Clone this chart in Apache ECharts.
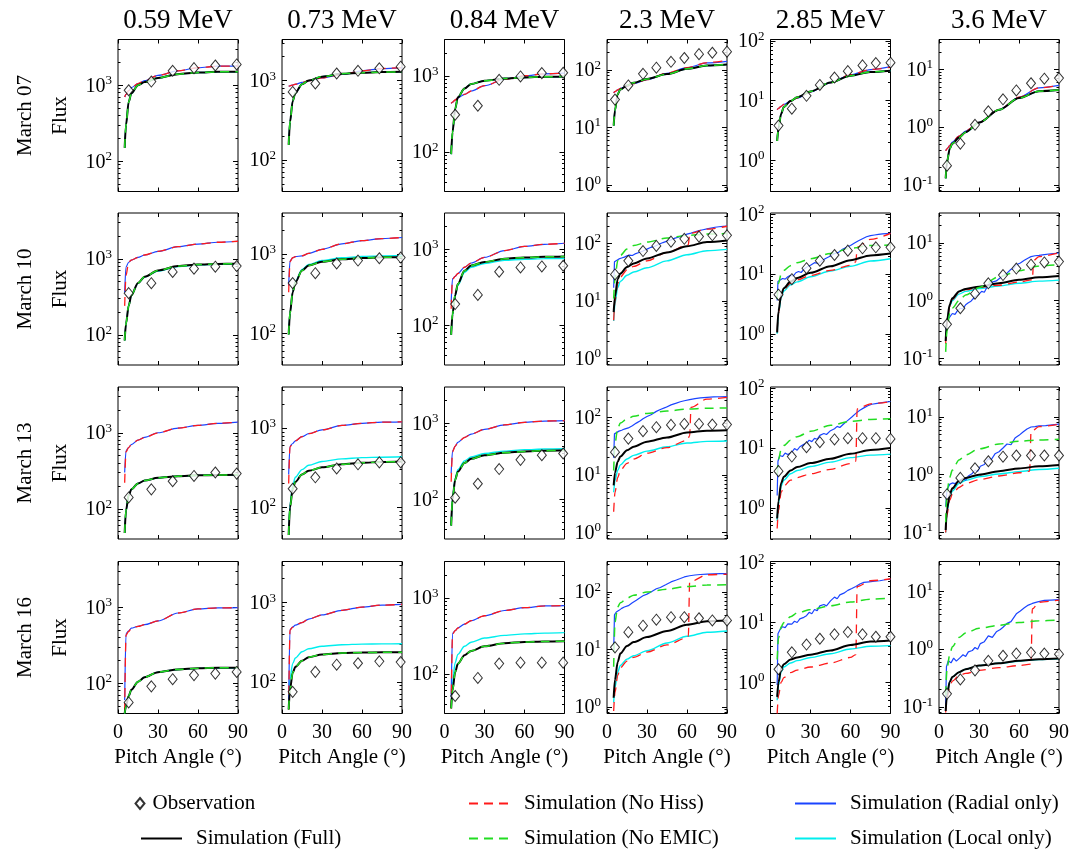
<!DOCTYPE html>
<html><head><meta charset="utf-8">
<script src="https://cdn.jsdelivr.net/npm/echarts@6/dist/echarts.min.js"></script>
<style>html,body{margin:0;padding:0;background:#fff}#c{width:1084px;height:852px}</style>
</head><body><div id="c"></div>
<script>
// ---------------- data ----------------
const ENERGIES = ['0.59 MeV', '0.73 MeV', '0.84 MeV', '2.3 MeV', '2.85 MeV', '3.6 MeV'];
const DATES = ['March 07', 'March 10', 'March 13', 'March 16'];
const Y_LIMITS = [[40, 4000], [40, 3300], [30, 3000], [0.77, 340], [0.3, 105], [0.077, 33]];
const PA_OBS_LOW = [8, 25, 41, 57, 73, 89];            // 0.59-0.84 MeV channels
const PA_OBS_HIGH = [6, 16, 27, 37, 48, 58, 69, 79, 90]; // 2.3-3.6 MeV channels
const PA_SIM = [5, 6, 8, 10, 15, 20, 30, 45, 60, 75, 90];
const LEGEND_NAMES = ['Observation', 'Simulation (Full)', 'Simulation (No Hiss)', 'Simulation (No EMIC)', 'Simulation (Radial only)', 'Simulation (Local only)'];

// March 07
const obs_mar07 = [
  [860, 1120, 1550, 1680, 1820, 1880],
  [720, 920, 1230, 1330, 1430, 1500],
  [307, 403, 885, 980, 1084, 1096],
  [30.6, 54, 86, 110, 139, 162, 189, 200, 209],
  [3.8, 7.3, 12.0, 18.2, 24.2, 31, 38.7, 42.4, 43],
  [0.216, 0.52, 1.1, 1.88, 3.04, 4.33, 5.77, 6.92, 7.1]];
const full_mar07 = [
  [150, 300, 600, 780, 1000, 1100, 1250, 1400, 1470, 1500, 1500],
  [155, 300, 550, 700, 900, 1000, 1120, 1220, 1260, 1280, 1290],
  [93, 180, 365, 520, 680, 780, 860, 920, 950, 970, 980],
  [10.8, 20, 38, 46, 54, 60, 70, 85, 105, 120, 125],
  [2.1, 3.5, 6.0, 7.8, 9.8, 11.3, 14.2, 20, 26, 30, 31.5],
  [0.13, 0.25, 0.42, 0.52, 0.66, 0.82, 1.2, 2.0, 3.2, 4.2, 4.4]];
const noHiss_mar07 = [
  [700, 760, 850, 930, 1050, 1150, 1350, 1550, 1700, 1780, 1800],
  [850, 860, 880, 900, 950, 1000, 1080, 1200, 1330, 1420, 1460],
  [433, 450, 480, 510, 570, 630, 740, 900, 1000, 1060, 1080],
  [40, 42, 45, 48, 52, 58, 68, 88, 110, 135, 147],
  [7.0, 7.4, 8.0, 8.6, 9.8, 11, 14, 20, 27, 33, 36],
  [0.39, 0.42, 0.48, 0.55, 0.7, 0.86, 1.2, 2.0, 3.3, 4.8, 5.3]];
const noEmic_mar07 = [
  [150, 300, 600, 780, 1000, 1100, 1250, 1400, 1470, 1500, 1500],
  [155, 300, 550, 700, 900, 1000, 1120, 1220, 1260, 1280, 1290],
  [93, 180, 365, 520, 680, 780, 860, 920, 950, 970, 980],
  [10.8, 20, 38, 46, 54, 60, 70, 85, 105, 120, 125],
  [2.1, 3.5, 6.0, 7.8, 9.8, 11.3, 14.2, 20, 26, 30, 31.5],
  [0.13, 0.25, 0.42, 0.52, 0.66, 0.82, 1.2, 2.0, 3.2, 4.2, 4.4]];
const radial_mar07 = [
  [700, 760, 850, 930, 1050, 1150, 1350, 1550, 1700, 1780, 1800],
  [850, 860, 880, 900, 950, 1000, 1080, 1200, 1330, 1420, 1460],
  [433, 450, 480, 510, 570, 630, 740, 900, 1000, 1060, 1080],
  [40, 42, 45, 48, 52, 58, 68, 88, 110, 133, 142],
  [7.0, 7.4, 8.0, 8.6, 9.8, 11, 14, 20, 27, 33, 37],
  [0.39, 0.42, 0.48, 0.55, 0.7, 0.86, 1.2, 2.0, 3.3, 4.8, 5.3]];
const local_mar07 = [
  [150, 300, 600, 780, 1000, 1100, 1250, 1400, 1470, 1500, 1500],
  [155, 300, 550, 700, 900, 1000, 1120, 1220, 1260, 1280, 1290],
  [93, 180, 365, 520, 680, 780, 860, 920, 950, 970, 980],
  [10.8, 20, 38, 46, 54, 60, 70, 85, 105, 120, 125],
  [2.1, 3.5, 6.0, 7.8, 9.8, 11.3, 14.2, 20, 26, 30, 31.5],
  [0.13, 0.25, 0.42, 0.52, 0.66, 0.82, 1.2, 2.0, 3.2, 4.2, 4.4]];

// March 10
const obs_mar10 = [
  [353, 477, 670, 741, 787, 802],
  [431, 575, 763, 830, 887, 905],
  [190, 251, 506, 577, 594, 607],
  [29, 50, 74, 91, 108, 121, 132, 139, 139],
  [4.5, 8.2, 12.5, 16.7, 20.8, 24.6, 26.9, 28, 28],
  [0.39, 0.74, 1.32, 2.0, 2.78, 3.6, 4.2, 4.6, 4.76]];
const full_mar10 = [
  [84, 140, 240, 330, 480, 580, 700, 800, 840, 855, 860],
  [97, 180, 330, 440, 620, 720, 800, 860, 895, 910, 915],
  [75, 140, 250, 350, 520, 610, 680, 750, 780, 795, 802],
  [6.4, 12, 24, 30, 39, 45, 55, 70, 90, 106, 113],
  [1.05, 2.4, 4.5, 5.8, 7.5, 8.6, 10.5, 13.5, 17, 20.5, 22],
  [0.2, 0.45, 0.85, 1.1, 1.45, 1.6, 1.75, 2.0, 2.3, 2.55, 2.68]];
const noHiss_mar10 = [
  [240, 600, 900, 960, 1040, 1120, 1250, 1440, 1560, 1650, 1700],
  [330, 800, 900, 930, 950, 1020, 1150, 1350, 1480, 1570, 1620],
  [165, 400, 440, 480, 580, 660, 780, 960, 1090, 1160, 1200],
  [[5, 4.6], [6, 10], [8, 20], [10, 26], [15, 35], [20, 40], [30, 50], [45, 70], [61, 95], [62, 150], [75, 178], [90, 200]],
  [[5, 1.1], [6, 2.2], [8, 4.2], [10, 5.5], [15, 7], [20, 8], [30, 9.5], [45, 11.5], [60, 14], [64, 16], [65, 28], [75, 38], [90, 48]],
  [[5, 0.18], [6, 0.4], [8, 0.8], [10, 1.05], [15, 1.4], [20, 1.55], [30, 1.7], [45, 1.85], [60, 2.1], [70, 2.3], [71, 5.0], [75, 5.8], [90, 6.7]]];
const noEmic_mar10 = [
  [84, 140, 240, 330, 480, 580, 700, 800, 840, 855, 860],
  [97, 180, 330, 440, 620, 720, 800, 860, 895, 910, 915],
  [75, 140, 250, 350, 520, 610, 680, 750, 780, 795, 802],
  [11, 25, 50, 62, 80, 92, 106, 125, 138, 146, 150],
  [3.8, 7, 10, 11.5, 13.8, 15.5, 18, 22, 27, 30, 30.6],
  [0.13, 0.3, 0.6, 0.75, 1.0, 1.25, 1.7, 2.6, 3.3, 4.0, 4.2]];
const radial_mar10 = [
  [360, 780, 900, 960, 1040, 1120, 1250, 1440, 1560, 1650, 1700],
  [400, 820, 900, 930, 950, 1020, 1150, 1350, 1480, 1570, 1620],
  [200, 410, 440, 480, 580, 660, 780, 960, 1090, 1160, 1200],
  [[5, 17], [5.6, 48], [7, 52], [9, 54], [11, 56], [13, 58], [15, 61], [17, 63], [19, 62], [21, 66], [24, 70], [27, 74], [30, 80], [33, 86], [36, 90], [39, 97], [42, 104], [45, 110], [48, 116], [51, 124], [54, 130], [57, 138], [60, 146], [63, 152], [66, 160], [69, 168], [72, 174], [75, 180], [78, 186], [81, 192], [84, 196], [87, 199], [90, 201]],
  [[5, 3.6], [5.6, 7.5], [7, 8], [9, 8.4], [11, 8.2], [13, 9], [15, 9.5], [17, 9.2], [19, 10.5], [21, 11], [23, 10.6], [25, 12], [27, 13], [30, 14], [33, 15.5], [36, 15], [39, 17], [42, 18.5], [45, 20], [48, 22], [51, 23], [54, 26], [57, 28], [60, 30], [63, 33], [66, 36], [69, 39], [72, 42], [75, 44], [78, 45], [81, 46], [84, 47], [87, 47.5], [90, 48]],
  [[5, 0.32], [6, 0.45], [8, 0.52], [10, 0.6], [12, 0.58], [14, 0.68], [16, 0.74], [18, 0.72], [20, 0.85], [22, 0.92], [24, 0.98], [27, 1.17], [30, 1.3], [32, 1.45], [34, 1.4], [37, 1.9], [40, 2.1], [43, 2.2], [46, 2.5], [48, 2.7], [51, 3.0], [54, 3.5], [56, 3.6], [58, 4.2], [61, 4.5], [64, 5.0], [67, 5.5], [69, 5.8], [72, 6.0], [75, 6.1], [79, 6.3], [84, 6.5], [90, 6.7]]];
const local_mar10 = [
  [84, 140, 240, 330, 475, 575, 690, 790, 830, 845, 850],
  [97, 180, 330, 450, 640, 740, 830, 900, 935, 950, 960],
  [75, 135, 240, 335, 495, 580, 650, 715, 740, 752, 756],
  [4.5, 9, 17, 22, 28, 32, 38, 50, 64, 75, 79],
  [1.0, 2.2, 4.0, 5.2, 6.6, 7.4, 9.0, 11.2, 13.5, 16.5, 18],
  [0.2, 0.42, 0.8, 1.0, 1.3, 1.45, 1.62, 1.8, 2.0, 2.18, 2.27]];

// March 13
const obs_mar13 = [
  [141, 180, 230, 270, 300, 290],
  [172, 240, 310, 350, 370, 370],
  [105, 160, 250, 330, 380, 400],
  [25, 43, 58, 68, 74.5, 77.4, 77.4, 75.5, 75.5],
  [4.1, 7.2, 10.3, 12.5, 13.9, 14.6, 14.6, 14.6, 14.2],
  [0.46, 0.88, 1.29, 1.71, 2.05, 2.15, 2.15, 2.15, 2.15]];
const full_mar13 = [
  [48, 95, 150, 180, 215, 235, 255, 268, 275, 278, 280],
  [45, 100, 170, 210, 260, 290, 320, 350, 365, 375, 380],
  [45, 100, 180, 230, 300, 340, 380, 410, 425, 435, 440],
  [6.6, 11, 17, 21, 27, 31, 38, 45, 55, 59, 60],
  [0.66, 1.3, 2.6, 3.3, 4.2, 4.8, 5.6, 6.6, 8.0, 9.3, 10],
  [0.11, 0.25, 0.45, 0.58, 0.78, 0.88, 1.0, 1.15, 1.28, 1.4, 1.47]];
const noHiss_mar13 = [
  [220, 560, 640, 700, 800, 870, 1000, 1150, 1250, 1330, 1380],
  [200, 580, 640, 690, 780, 850, 950, 1080, 1150, 1190, 1200],
  [170, 420, 500, 560, 650, 720, 830, 950, 1030, 1070, 1080],
  [[5, 2.3], [6, 5], [8, 9], [10, 12], [15, 16], [20, 19], [30, 24], [45, 30], [60, 40], [62, 48], [63, 150], [75, 210], [90, 225]],
  [[5, 0.45], [6, 0.9], [8, 1.8], [10, 2.3], [15, 2.9], [20, 3.2], [30, 3.7], [45, 4.4], [60, 5.5], [64, 6], [65, 45], [75, 55], [90, 60]],
  [[5, 0.1], [6, 0.2], [8, 0.36], [10, 0.46], [15, 0.6], [20, 0.7], [30, 0.82], [45, 0.95], [60, 1.08], [68, 1.15], [69, 5.5], [75, 6.8], [90, 7.5]]];
const noEmic_mar13 = [
  [48, 95, 150, 180, 215, 235, 255, 268, 275, 278, 280],
  [45, 100, 170, 210, 260, 290, 320, 350, 365, 375, 380],
  [45, 100, 180, 230, 300, 340, 380, 410, 425, 435, 440],
  [12, 35, 65, 80, 95, 105, 118, 130, 140, 145, 147],
  [3.6, 6.5, 9.5, 11, 13.5, 15.5, 19, 24, 28, 30, 31],
  [0.15, 0.5, 0.9, 1.2, 1.8, 2.2, 2.8, 3.4, 3.8, 4.0, 4.1]];
const radial_mar13 = [
  [300, 580, 640, 700, 800, 870, 1000, 1150, 1250, 1330, 1380],
  [260, 590, 640, 690, 780, 850, 950, 1080, 1150, 1190, 1200],
  [220, 430, 500, 560, 650, 720, 830, 950, 1030, 1070, 1080],
  [[5, 20], [5.6, 52], [7, 56], [9, 58], [11, 60], [13, 63], [16, 66], [19, 72], [22, 80], [25, 88], [27, 95], [30, 104], [33, 112], [37, 128], [40, 138], [44, 150], [48, 166], [52, 178], [55, 188], [58, 196], [62, 205], [66, 213], [70, 220], [75, 225], [80, 228], [85, 230], [90, 232]],
  [[5, 1.6], [5.6, 6], [7, 7.5], [9, 7.2], [11, 8.2], [13, 7.8], [16, 8.5], [18, 9.8], [20, 9.2], [22, 10.5], [25, 11.5], [27, 12], [29, 13.5], [31, 12.8], [33, 14.5], [35, 14], [37, 16.3], [40, 17.5], [42, 16.8], [45, 19.5], [48, 21], [50, 23], [52, 22], [55, 25.5], [58, 29], [61, 33], [64, 38], [67, 43], [70, 47], [73, 51], [76, 54], [80, 56], [85, 58], [90, 60]],
  [[5, 0.28], [6, 0.55], [8, 0.68], [10, 0.72], [12, 0.7], [14, 0.76], [16, 0.77], [18, 0.85], [20, 0.8], [22, 0.95], [25, 1.05], [27, 1.2], [29, 1.15], [31, 1.4], [34, 1.5], [37, 1.9], [39, 1.8], [42, 2.3], [45, 2.5], [48, 2.9], [51, 3.4], [54, 3.3], [57, 4.3], [60, 4.8], [63, 5.5], [66, 6.2], [69, 6.7], [72, 6.8], [75, 7.0], [80, 7.1], [85, 7.3], [90, 7.5]]];
const local_mar13 = [
  [48, 95, 150, 180, 215, 235, 255, 268, 275, 278, 280],
  [45, 110, 190, 240, 300, 340, 380, 410, 425, 430, 435],
  [45, 105, 190, 245, 320, 360, 400, 430, 450, 458, 462],
  [5, 8, 12, 15, 19, 22, 26, 31, 36, 38.5, 39],
  [0.6, 1.2, 2.3, 2.9, 3.7, 4.2, 4.9, 5.8, 6.9, 7.6, 7.9],
  [0.1, 0.22, 0.4, 0.52, 0.7, 0.8, 0.92, 1.03, 1.13, 1.23, 1.29]];

// March 16
const obs_mar16 = [
  [56, 91, 113, 128, 134, 141],
  [75, 134, 165, 172, 182, 178],
  [51, 88, 136, 140, 140, 140],
  [10.9, 20, 26, 33, 36.5, 36.5, 35, 32, 32],
  [1.65, 3.17, 4.28, 5.35, 6.34, 6.93, 6.34, 5.78, 5.78],
  [0.169, 0.3, 0.43, 0.63, 0.77, 0.84, 0.875, 0.84, 0.82]];
const full_mar16 = [
  [40, 50, 68, 82, 105, 120, 140, 152, 158, 160, 160],
  [45, 80, 130, 155, 185, 205, 222, 232, 235, 236, 237],
  [35, 60, 105, 135, 175, 200, 230, 252, 262, 266, 268],
  [1.45, 3, 6, 8.5, 11.5, 13.5, 16.5, 21, 27, 31, 32],
  [0.57, 1.0, 1.7, 2.0, 2.4, 2.6, 2.9, 3.4, 4.2, 4.8, 5.0],
  [0.085, 0.16, 0.27, 0.33, 0.4, 0.45, 0.52, 0.57, 0.63, 0.67, 0.69]];
const noHiss_mar16 = [
  [42, 430, 480, 530, 560, 590, 660, 840, 950, 980, 990],
  [45, 450, 490, 520, 560, 620, 700, 800, 880, 930, 950],
  [35, 330, 370, 400, 450, 500, 580, 680, 740, 780, 790],
  [[5, 0.85], [6, 1.8], [8, 3.5], [10, 4.8], [15, 6.3], [20, 7.3], [30, 9], [45, 12], [60, 16], [61, 17], [62, 150], [75, 200], [90, 205]],
  [[5, 0.3], [6, 0.6], [8, 1.0], [10, 1.2], [15, 1.45], [20, 1.6], [30, 1.8], [45, 2.1], [60, 2.6], [64, 2.9], [65, 40], [75, 50], [90, 54]],
  [[5, 0.08], [6, 0.14], [8, 0.22], [10, 0.28], [15, 0.35], [20, 0.38], [30, 0.43], [45, 0.48], [60, 0.52], [69, 0.55], [70, 5], [75, 6.5], [90, 7.1]]];
const noEmic_mar16 = [
  [40, 50, 68, 82, 105, 120, 140, 152, 158, 160, 160],
  [45, 80, 130, 155, 185, 205, 222, 232, 235, 236, 237],
  [35, 60, 105, 135, 175, 200, 230, 252, 262, 266, 268],
  [5, 30, 55, 65, 78, 88, 100, 112, 125, 132, 134],
  [2.4, 5.5, 8.5, 10, 12.5, 14.5, 16.5, 19, 22, 24.5, 25.6],
  [0.16, 0.45, 0.8, 1.1, 1.6, 1.9, 2.3, 2.6, 2.9, 3.1, 3.2]];
const radial_mar16 = [
  [60, 450, 490, 530, 560, 590, 660, 840, 950, 980, 990],
  [60, 460, 490, 520, 560, 620, 700, 800, 880, 930, 950],
  [50, 340, 370, 400, 450, 500, 580, 680, 740, 780, 790],
  [[5, 9.5], [5.6, 40], [7, 45], [9, 48], [11, 52], [13, 55], [16, 58], [19, 65], [22, 72], [25, 80], [27, 86], [30, 92], [33, 100], [37, 114], [40, 120], [44, 134], [48, 150], [52, 162], [55, 172], [58, 183], [62, 192], [66, 198], [70, 202], [75, 205], [80, 207], [85, 209], [90, 210]],
  [[5, 0.9], [5.6, 6.5], [7, 7.5], [9, 8.5], [11, 8.2], [13, 9.5], [16, 9.4], [18, 10.5], [20, 10], [22, 11.5], [25, 12.2], [27, 13], [29, 14.8], [31, 14], [33, 16.5], [35, 15.8], [37, 19], [40, 20], [42, 19], [45, 23], [48, 26.6], [50, 25], [52, 29], [55, 31], [58, 34.5], [61, 37], [64, 40], [67, 44], [70, 47], [74, 48], [78, 49], [82, 50], [86, 52], [90, 53]],
  [[5, 0.11], [5.6, 0.5], [7, 0.63], [9, 0.58], [11, 0.7], [13, 0.62], [16, 0.72], [18, 0.8], [20, 0.75], [22, 0.9], [25, 0.95], [27, 1.07], [29, 1.0], [31, 1.25], [34, 1.35], [37, 1.7], [40, 1.6], [43, 2.0], [46, 2.2], [48, 2.4], [51, 2.8], [54, 3.0], [58, 4.1], [61, 4.6], [64, 5.2], [67, 5.8], [70, 6.2], [74, 6.6], [79, 7.0], [84, 7.1], [90, 7.2]]];
const local_mar16 = [
  [40, 50, 68, 82, 105, 120, 140, 152, 157, 158, 158],
  [60, 110, 170, 200, 240, 262, 282, 295, 300, 302, 303],
  [36, 80, 140, 180, 230, 260, 295, 320, 335, 343, 348],
  [1.2, 2.2, 4, 5.3, 6.8, 7.8, 9.5, 13, 17, 20, 21],
  [0.5, 0.9, 1.5, 1.8, 2.1, 2.3, 2.6, 3.0, 3.6, 4.0, 4.1],
  [0.085, 0.16, 0.27, 0.33, 0.4, 0.45, 0.52, 0.57, 0.62, 0.66, 0.68]];

// ---------------- layout / styling ----------------
const FONT = 'Liberation Serif';
const COL_LEFTS = [118, 282, 444.5, 607, 770.5, 939];
const ROW_TOPS = [39.5, 213, 387, 561.5];
const PW = 120, PH = 152;

const OBS = [obs_mar07, obs_mar10, obs_mar13, obs_mar16];
const LINE_DEFS = [
  { name: LEGEND_NAMES[5], rows: [local_mar07, local_mar10, local_mar13, local_mar16], color: '#00eeee', width: 1.4, dash: 'solid' },
  { name: LEGEND_NAMES[4], rows: [radial_mar07, radial_mar10, radial_mar13, radial_mar16], color: '#1a44ff', width: 1.2, dash: 'solid' },
  { name: LEGEND_NAMES[2], rows: [noHiss_mar07, noHiss_mar10, noHiss_mar13, noHiss_mar16], color: '#ff1a1a', width: 1.3, dash: [9, 6] },
  { name: LEGEND_NAMES[1], rows: [full_mar07, full_mar10, full_mar13, full_mar16], color: '#000000', width: 2, dash: 'solid' },
  { name: LEGEND_NAMES[3], rows: [noEmic_mar07, noEmic_mar10, noEmic_mar13, noEmic_mar16], color: '#22dd22', width: 1.5, dash: [9, 6] }
];

function toPairs(vals, xs) {
  return Array.isArray(vals[0]) ? vals : xs.map((x, i) => [x, vals[i]]);
}
function powLabel(v) {
  const l = Math.log10(v), e = Math.round(l);
  if (Math.abs(l - e) > 1e-6) return '';
  return '{b|10}{s|' + (e < 0 ? '-' + (-e) : e) + '}';
}
function ticksFor(lo, hi) {
  const majors = [], minors = [];
  for (let d = Math.floor(Math.log10(lo)); d <= Math.ceil(Math.log10(hi)); d++) {
    const p = Math.pow(10, d);
    if (p >= lo && p <= hi) majors.push(p);
    for (let m = 2; m <= 9; m++) { const v = m * p; if (v > lo && v < hi) minors.push(v); }
  }
  return { majors, minors };
}

const grids = [], xAxes = [], yAxes = [], series = [];
for (let r = 0; r < 4; r++) {
  for (let c = 0; c < 6; c++) {
    const p = r * 6 + c;
    grids.push({ left: COL_LEFTS[c], top: ROW_TOPS[r], width: PW, height: PH, show: true, borderColor: '#000', borderWidth: 1, backgroundColor: 'transparent' });
    const xBase = { type: 'value', gridIndex: p, min: 0, max: 90, interval: 30, axisLine: { show: false }, splitLine: { show: false },
      axisTick: { inside: true, length: 4, lineStyle: { color: '#000', width: 1 } } };
    xAxes.push(Object.assign({}, xBase, {
      position: 'bottom',
      axisLabel: { show: r === 3, fontFamily: FONT, fontSize: 20, color: '#000', margin: 9 },
      name: r === 3 ? 'Pitch Angle (°)' : '', nameLocation: 'middle', nameGap: 33,
      nameTextStyle: { fontFamily: FONT, fontSize: 21, color: '#000' }
    }));
    xAxes.push(Object.assign({}, xBase, { position: 'top', axisLabel: { show: false } }));

    const [lo, hi] = Y_LIMITS[c];
    const { majors, minors } = ticksFor(lo, hi);
    const yBase = { type: 'log', logBase: 10, gridIndex: p, min: lo, max: hi, axisLine: { show: false }, splitLine: { show: false } };
    yAxes.push(Object.assign({}, yBase, {
      position: 'left',
      axisTick: { inside: true, length: 5, customValues: majors, lineStyle: { color: '#000' } },
      axisLabel: { customValues: majors, formatter: powLabel, margin: 6, color: '#000',
        rich: { b: { fontFamily: FONT, fontSize: 20, color: '#000', lineHeight: 22, verticalAlign: 'bottom' },
                s: { fontFamily: FONT, fontSize: 13, color: '#000', lineHeight: 13, verticalAlign: 'top' } } }
    }));
    yAxes.push(Object.assign({}, yBase, { position: 'left', axisTick: { inside: true, length: 2.5, customValues: minors, lineStyle: { color: '#000' } }, axisLabel: { show: false } }));
    yAxes.push(Object.assign({}, yBase, { position: 'right', axisTick: { inside: true, length: 5, customValues: majors, lineStyle: { color: '#000' } }, axisLabel: { show: false } }));
    yAxes.push(Object.assign({}, yBase, { position: 'right', axisTick: { inside: true, length: 2.5, customValues: minors, lineStyle: { color: '#000' } }, axisLabel: { show: false } }));

    LINE_DEFS.forEach(d => {
      const raw = d.rows[r][c];
      const dense = Array.isArray(raw[0]) && raw.length > 16;
      series.push({
        type: 'line', name: d.name, xAxisIndex: 2 * p, yAxisIndex: 4 * p,
        data: toPairs(raw, PA_SIM), symbol: 'none', smooth: dense ? false : 0.3, smoothMonotone: 'x',
        lineStyle: { color: d.color, width: d.width, type: d.dash }, itemStyle: { color: d.color },
        silent: true, animation: false
      });
    });
    series.push({
      type: 'scatter', name: LEGEND_NAMES[0], xAxisIndex: 2 * p, yAxisIndex: 4 * p,
      data: toPairs(OBS[r][c], c < 3 ? PA_OBS_LOW : PA_OBS_HIGH),
      symbol: 'diamond', symbolSize: [9, 11],
      itemStyle: { color: '#ffffff', borderColor: '#000', borderWidth: 1 }, silent: true, animation: false, z: 5
    });
  }
}

const LEG_POS = [[134.5, 793], [140, 828], [468, 793], [468, 828], [794, 793], [794, 828]];
const legends = LEGEND_NAMES.map((n, i) => {
  const l = {
    data: [n], left: LEG_POS[i][0], top: LEG_POS[i][1], selectedMode: false, orient: 'horizontal',
    itemWidth: i === 0 ? 9 : 41, itemHeight: i === 0 ? 11 : 14, padding: 0,
    textStyle: { fontFamily: FONT, fontSize: 21, color: '#000', padding: [0, 0, 0, i === 0 ? 3 : 9] }
  };
  if (i > 0) l.itemStyle = { opacity: 0, borderWidth: 0 };
  return l;
});

const graphics = [];
ENERGIES.forEach((t, c) => graphics.push({ type: 'text', x: COL_LEFTS[c] + PW / 2, y: 21, silent: true,
  style: { text: t, fontFamily: FONT, fontSize: 27, fill: '#000', align: 'center', verticalAlign: 'middle', textAlign: 'center', textVerticalAlign: 'middle' } }));
DATES.forEach((t, r) => {
  graphics.push({ type: 'text', x: 25, y: ROW_TOPS[r] + PH / 2, rotation: Math.PI / 2, silent: true,
    style: { text: t, fontFamily: FONT, fontSize: 21, fill: '#000', align: 'center', verticalAlign: 'middle', textAlign: 'center', textVerticalAlign: 'middle' } });
  graphics.push({ type: 'text', x: 60, y: ROW_TOPS[r] + PH / 2, rotation: Math.PI / 2, silent: true,
    style: { text: 'Flux', fontFamily: FONT, fontSize: 21, fill: '#000', align: 'center', verticalAlign: 'middle', textAlign: 'center', textVerticalAlign: 'middle' } });
});

const chart = echarts.init(document.getElementById('c'), null, { renderer: 'canvas' });
chart.setOption({
  animation: false,
  backgroundColor: '#ffffff',
  textStyle: { fontFamily: FONT },
  grid: grids, xAxis: xAxes, yAxis: yAxes, series: series,
  legend: legends, graphic: graphics
});
</script></body></html>
